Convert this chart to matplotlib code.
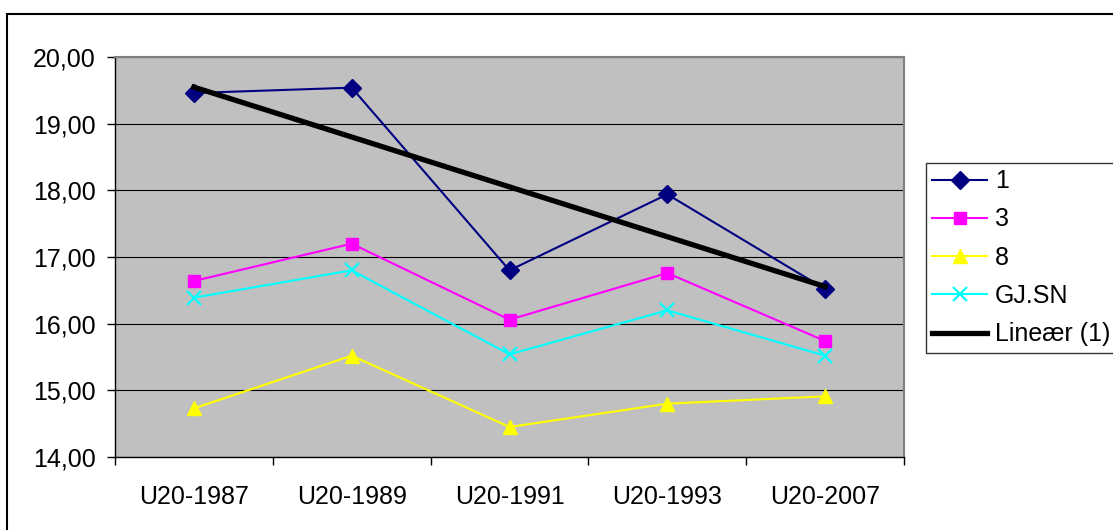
import matplotlib
matplotlib.use('Agg')

import matplotlib.pyplot as plt
from matplotlib.patches import Rectangle
from matplotlib.ticker import FuncFormatter
import numpy as np

plt.rcParams['font.family'] = ['Liberation Sans', 'DejaVu Sans']

categories = ["U20-1987", "U20-1989", "U20-1991", "U20-1993", "U20-2007"]
s1 = [19.46, 19.54, 16.80, 17.94, 16.52]
s3 = [16.64, 17.20, 16.06, 16.76, 15.74]
s8 = [14.73, 15.52, 14.45, 14.80, 14.91]
gjsn = [16.39, 16.80, 15.54, 16.20, 15.52]

W, H = 1113, 530
fig = plt.figure(figsize=(W / 100, H / 100), dpi=100)
ax = fig.add_axes([115 / W, 1 - 457 / H, 789 / W, 400 / H])
ax.set_facecolor('#C0C0C0')

x = np.arange(len(categories))
ax.plot(x, s1, color='#000080', marker='D', markersize=9, linewidth=1.5, label='1', zorder=3)
ax.plot(x, s3, color='#FF00FF', marker='s', markersize=9, linewidth=1.5, label='3', zorder=3)
ax.plot(x, s8, color='#FFFF00', marker='^', markersize=10, linewidth=1.5, label='8', zorder=3)
ax.plot(x, gjsn, color='#00FFFF', marker='x', markersize=10, markeredgewidth=1.6,
        linewidth=1.5, label='GJ.SN', zorder=3)

# linear trend of series 1
k, m = np.polyfit(x, s1, 1)
ax.plot(x, k * x + m, color='black', linewidth=3.8, label='Lineær (1)', zorder=4)

ax.set_xlim(-0.5, len(categories) - 0.5)
ax.set_ylim(14, 20)
ax.set_yticks(np.arange(14, 20.01, 1))
ax.yaxis.set_major_formatter(FuncFormatter(lambda v, pos: "{:.2f}".format(v).replace('.', ',')))
ax.set_xticks(x)
ax.set_xticklabels(categories)
ax.set_xticks(np.arange(-0.5, len(categories), 1), minor=True)
ax.tick_params(axis='x', which='major', length=0, pad=20, labelsize=18)
ax.tick_params(axis='x', which='minor', length=6, width=1, direction='out')
ax.tick_params(axis='y', length=6, width=1, direction='out', pad=8, labelsize=18)
ax.grid(True, axis='y', color='black', linewidth=0.8)
ax.set_axisbelow(True)

for side in ['top', 'right']:
    ax.spines[side].set_color('#808080')
    ax.spines[side].set_linewidth(1.5)
for side in ['left', 'bottom']:
    ax.spines[side].set_color('black')
    ax.spines[side].set_linewidth(1)

leg = fig.legend(loc='upper left', bbox_to_anchor=(926 / W, 1 - 163 / H),
                 fontsize=18, frameon=True, fancybox=False, edgecolor='black',
                 handlelength=2.2, labelspacing=0.57, borderpad=0.25,
                 handletextpad=0.3, borderaxespad=0)
leg.get_frame().set_linewidth(1)

# chart area border
fig.patches.append(Rectangle((7 / W, -0.1), 2, 1.1 - 14 / H, transform=fig.transFigure,
                             fill=False, edgecolor='black', linewidth=1.5))

fig.savefig('out.png', dpi=100)
